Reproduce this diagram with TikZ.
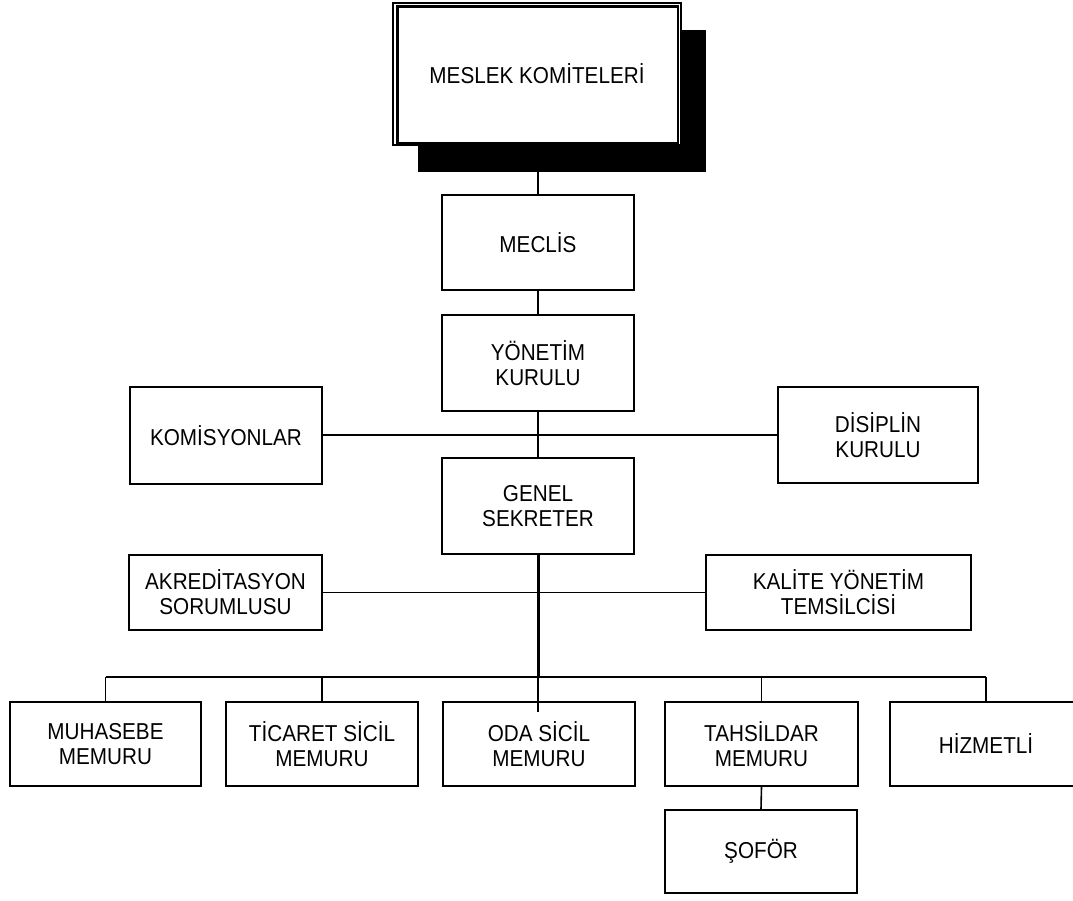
\documentclass[tikz,border=0pt]{standalone}
\usepackage{fontspec}
\setmainfont[FakeStretch=0.9]{Liberation Sans}
\usetikzlibrary{shadows}
\begin{document}
\begin{tikzpicture}[x=1pt,y=-1pt,
  box/.style={draw,line width=1.8pt,fill=white,inner sep=0pt,align=center,
    minimum width=192pt,minimum height=96pt,
    font=\fontsize{23}{25}\selectfont},
  conn/.style={line width=1.6pt},
  thickconn/.style={line width=3pt},
  topbox/.style={draw,line width=1.2pt,fill=white,inner sep=0pt,
    minimum width=288pt,minimum height=142pt,
    font=\fontsize{23}{25}\selectfont,
    drop shadow={shadow xshift=25pt,shadow yshift=-27pt,fill=black,opacity=1}}]
\useasboundingbox (0,0) rectangle (1073,900);
% top box
\node[topbox] (top) at (537,74) {MESLEK KOM\.{I}TELER\.{I}};
\draw[line width=2.2pt] ([shift={(5,4)}]top.north west) rectangle ([shift={(-4,-3)}]top.south east);
% main column
\node[box,minimum height=95pt] (meclis) at (538,242.5) {MECL\.{I}S};
\node[box] (yonetim) at (538,363) {YÖNET\.{I}M\\KURULU};
\node[box,minimum height=97pt] (komisyon) at (226,435.5) {KOM\.{I}SYONLAR};
\node[box,minimum width=200pt] (disiplin) at (878,435) {D\.{I}S\.{I}PL\.{I}N\\KURULU};
\node[box] (genel) at (538,506) {GENEL\\SEKRETER};
\node[box,minimum width=193pt,minimum height=75pt] (akred) at (225.5,592.5) {AKRED\.{I}TASYON\\SORUMLUSU};
\node[box,minimum width=265pt,minimum height=75pt] (kalite) at (838.5,592.5) {KAL\.{I}TE YÖNET\.{I}M\\TEMS\.{I}LC\.{I}S\.{I}};
% bottom row
\node[box,minimum width=191pt,minimum height=84pt] (muhasebe) at (105.5,744) {MUHASEBE\\MEMURU};
\node[box,minimum height=84pt] (ticaret) at (322,744) {T\.{I}CARET S\.{I}C\.{I}L\\MEMURU};
\node[box,minimum height=84pt] (oda) at (539,744) {ODA S\.{I}C\.{I}L\\MEMURU};
\node[box,minimum width=193pt,minimum height=84pt] (tahsildar) at (761.5,744) {TAHS\.{I}LDAR\\MEMURU};
\node[box,minimum height=84pt] (hizmetli) at (986,744) {H\.{I}ZMETL\.{I}};
\node[box,minimum height=83pt] (sofor) at (761,851.5) {ŞOFÖR};
% connectors
\coordinate (bus) at (538,677);
\coordinate (odaend) at (538,712);
\draw[conn] (top.south -| meclis.north) -- (meclis.north);
\draw[conn] (meclis.south) -- (yonetim.north);
\draw[conn] (yonetim.south) -- (genel.north);
\draw[conn] (komisyon.east |- 0,435) -- (disiplin.west |- 0,435);
\draw[conn] (akred.east) -- (kalite.west);
\draw[thickconn] (genel.south) -- (bus);
\draw[conn] (bus) -- (odaend);
\draw[line width=2.2pt] (muhasebe.north |- bus) -- (hizmetli.north |- bus);
\draw[conn] (muhasebe.north |- bus) -- (muhasebe.north);
\draw[conn] (ticaret.north |- bus) -- (ticaret.north);
\draw[conn] (tahsildar.north |- bus) -- (tahsildar.north);
\draw[conn] (hizmetli.north |- bus) -- (hizmetli.north);
\draw[conn] (tahsildar.south) -- (sofor.north);
\end{tikzpicture}
\end{document}
